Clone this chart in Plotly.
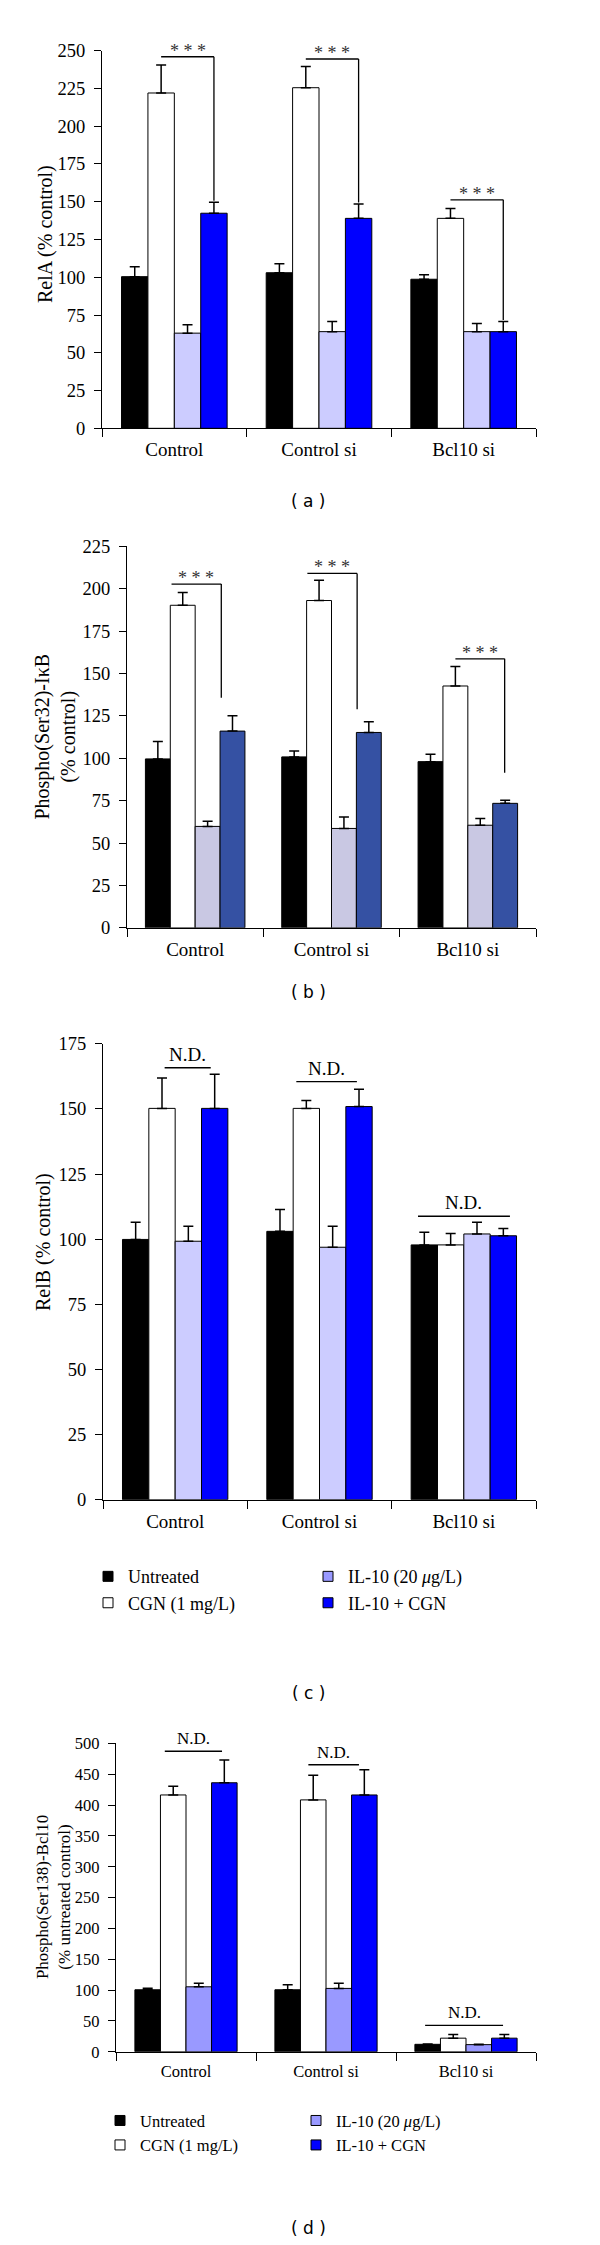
import plotly.graph_objects as go

W, H = 600, 2245

categories = ["Control", "Control si", "Bcl10 si"]
treatments = ["Untreated", "CGN (1 mg/L)", "IL-10 (20 <i>μ</i>g/L)", "IL-10 + CGN"]

# (a) RelA, % control  -- rows: untreated, CGN, IL-10, IL-10+CGN
relA_mean = [[100.4, 103.0, 98.7], [222.0, 225.5, 139.0], [63.0, 64.0, 64.0], [142.4, 139.0, 64.0]]
relA_err = [[6.6, 6.0, 3.0], [18.6, 14.0, 6.6], [5.6, 6.7, 5.4], [7.2, 9.5, 6.7]]

# (b) Phospho(Ser32)-IkB, % control
ikb_mean = [[99.6, 100.8, 98.0], [190.2, 193.0, 142.6], [59.8, 58.6, 60.5], [116.0, 115.2, 73.4]]
ikb_err = [[10.2, 3.5, 4.3], [7.5, 11.9, 11.5], [3.1, 6.8, 4.0], [9.0, 6.3, 1.8]]

# (c) RelB, % control
relB_mean = [[99.9, 103.0, 97.8], [150.2, 150.2, 97.8], [99.2, 96.9, 102.0], [150.2, 150.9, 101.3]]
relB_err = [[6.6, 8.4, 4.9], [11.7, 3.0, 4.4], [5.8, 8.1, 4.5], [13.1, 6.6, 2.8]]

# (d) Phospho(Ser138)-Bcl10, % untreated control
bcl_mean = [[100.5, 100.5, 12.0], [416.5, 408.5, 22.0], [105.3, 102.7, 11.5], [436.3, 416.5, 22.0]]
bcl_err = [[2.5, 8.0, 0.5], [14.0, 40.0, 5.8], [5.8, 8.5, 0.5], [37.0, 41.0, 5.8]]

# significance / N.D. annotations (levels in data units)
star_a_level = [246.0, 244.5, 151.3]
star_b_level = [202.7, 209.0, 158.6]
star_b_drop = [135.7, 128.9, 91.4]
nd_c_level = [165.8, 160.5, 108.8]
nd_d_level = [487.4, 465.5, 42.7]

# spans in bar-index units inside each group (0 = first bar centre)
span_a = [(1, 3), (1, 3), (1, 3)]
span_b = [(0.55, 2.55), (0.53, 2.53), (1.0, 2.98)]
span_c = [(1.1, 2.85), (0.62, 2.92), (-0.24, 3.25)]
span_d = [(0.67, 2.91), (0.81, 2.79), (-0.1, 2.95)]

BARGAP = 0.27
BW = (1 - BARGAP) / 4
SERIF = "Liberation Serif"


def bx(i, p):
    return i + (p - 1.5) * BW


fig = go.Figure()

panels = [
    dict(n="", mean=relA_mean, err=relA_err,
         colors=["#000000", "#FFFFFF", "#CCCCFF", "#0000FF"],
         px=(94, 528), py=(33, 414), top=250, dtick=25, tick=18.5, cat=19),
    dict(n="2", mean=ikb_mean, err=ikb_err,
         colors=["#000000", "#FFFFFF", "#C9C8E3", "#3551A3"],
         px=(119, 528), py=(533, 918), top=225, dtick=25, tick=18.5, cat=19),
    dict(n="3", mean=relB_mean, err=relB_err,
         colors=["#000000", "#FFFFFF", "#CCCCFF", "#0000FF"],
         px=(95, 528), py=(1035, 1495), top=175, dtick=25, tick=18.5, cat=19),
    dict(n="4", mean=bcl_mean, err=bcl_err,
         colors=["#000000", "#FFFFFF", "#9999FF", "#0000FF"],
         px=(108, 528), py=(1741, 2052), top=500, dtick=50, tick=16.5, cat=16.5),
]

layout_axes = {}
for p in panels:
    n = p["n"]
    for j in range(4):
        fig.add_trace(go.Bar(
            x=categories, y=p["mean"][j], name=treatments[j],
            marker=dict(color=p["colors"][j], line=dict(color="black", width=1)),
            error_y=dict(type="data", array=p["err"][j], arrayminus=[0, 0, 0],
                         symmetric=False, color="black", thickness=1.5, width=5),
            xaxis="x" + n, yaxis="y" + n, showlegend=False))
    layout_axes["xaxis" + n] = dict(
        domain=[p["px"][0] / W, p["px"][1] / W], anchor="y" + n, type="category",
        range=[-0.5, 2.5], tickson="boundaries", ticks="outside", ticklen=8,
        tickwidth=1.3, tickcolor="black", showline=True, linecolor="black",
        linewidth=1.3, showgrid=False, ticklabelstandoff=4,
        tickfont=dict(family=SERIF, size=p["cat"], color="black"))
    layout_axes["yaxis" + n] = dict(
        domain=[1 - p["py"][1] / H, 1 - p["py"][0] / H], anchor="x" + n,
        range=[0, p["top"]], dtick=p["dtick"], ticks="outside", ticklen=7,
        tickwidth=1.3, tickcolor="black", showline=True, linecolor="black",
        linewidth=1.3, showgrid=False, zeroline=False, ticklabelstandoff=5,
        tickfont=dict(family=SERIF, size=p["tick"], color="black"))

shapes = []
annotations = []
line_style = dict(color="black", width=1.3)

# *** brackets, panel (a): drop to top of IL-10 + CGN error bar
for i in range(3):
    x0, x1 = bx(i, span_a[i][0]), bx(i, span_a[i][1])
    lvl = star_a_level[i]
    drop = relA_mean[3][i] + relA_err[3][i] + 1
    shapes.append(dict(type="line", xref="x", yref="y", x0=x0, x1=x1, y0=lvl, y1=lvl, line=line_style))
    shapes.append(dict(type="line", xref="x", yref="y", x0=x1, x1=x1, y0=lvl, y1=drop, line=line_style))
    annotations.append(dict(text="* * *", xref="x", yref="y", x=(x0 + x1) / 2, y=lvl,
                            yanchor="bottom", showarrow=False, yshift=-6,
                            font=dict(family=SERIF, size=18, color="#333333")))

# *** brackets, panel (b)
for i in range(3):
    x0, x1 = bx(i, span_b[i][0]), bx(i, span_b[i][1])
    lvl = star_b_level[i]
    shapes.append(dict(type="line", xref="x2", yref="y2", x0=x0, x1=x1, y0=lvl, y1=lvl, line=line_style))
    shapes.append(dict(type="line", xref="x2", yref="y2", x0=x1, x1=x1, y0=lvl, y1=star_b_drop[i], line=line_style))
    annotations.append(dict(text="* * *", xref="x2", yref="y2", x=(x0 + x1) / 2, y=lvl,
                            yanchor="bottom", showarrow=False, yshift=-6,
                            font=dict(family=SERIF, size=18, color="#333333")))

# N.D. lines, panels (c) and (d)
for ax, levels, spans, fs in [("3", nd_c_level, span_c, 19), ("4", nd_d_level, span_d, 17)]:
    for i in range(3):
        x0, x1 = bx(i, spans[i][0]), bx(i, spans[i][1])
        shapes.append(dict(type="line", xref="x" + ax, yref="y" + ax, x0=x0, x1=x1,
                           y0=levels[i], y1=levels[i], line=line_style))
        annotations.append(dict(text="N.D.", xref="x" + ax, yref="y" + ax, x=(x0 + x1) / 2,
                                y=levels[i], yanchor="bottom", showarrow=False, yshift=1,
                                font=dict(family=SERIF, size=fs, color="black")))

# y axis titles
ytitles = [
    ("RelA (% control)", 37, 218, 20),
    ("Phospho(Ser32)-IκB<br>(% control)", 48, 725, 20),
    ("RelB (% control)", 36, 1235, 20),
    ("Phospho(Ser138)-Bcl10<br>(% untreated control)", 45, 1896, 17),
]
for txt, x, y, fs in ytitles:
    annotations.append(dict(text=txt, xref="paper", yref="paper", x=x / W, y=1 - y / H,
                            textangle=-90, showarrow=False, xanchor="center", yanchor="middle",
                            font=dict(family=SERIF, size=fs, color="black")))

# panel captions
for txt, y in [("( a )", 487), ("( b )", 983), ("( c )", 1690), ("( d )", 2230)]:
    annotations.append(dict(text=txt, xref="paper", yref="paper", x=0.5, y=1 - y / H,
                            showarrow=False, xanchor="center", yanchor="middle",
                            font=dict(family="DejaVu Sans", size=17, color="black")))

# legends for (c) and (d), two columns each
legend_colors = ["#000000", "#FFFFFF", "#9999FF", "#0000FF"]
legend_slots = [("3", "legend", "legend2"), ("4", "legend3", "legend4")]
for ax, l1, l2 in legend_slots:
    for j in range(4):
        fig.add_trace(go.Scatter(
            x=[None], y=[None], mode="markers", name=treatments[j],
            marker=dict(symbol="square", size=10, color=legend_colors[j],
                        line=dict(color="black", width=1)),
            xaxis="x" + ax, yaxis="y" + ax, legend=l1 if j < 2 else l2))


def legend_box(x, y, fs):
    return dict(x=x / W, y=1 - y / H, xanchor="left", yanchor="top", bgcolor="rgba(0,0,0,0)",
                font=dict(family=SERIF, size=fs, color="black"), tracegroupgap=0,
                itemclick=False, itemdoubleclick=False)


fig.update_layout(
    width=W, height=H, margin=dict(l=0, r=0, t=0, b=0),
    paper_bgcolor="white", plot_bgcolor="white",
    barmode="group", bargap=BARGAP, bargroupgap=0,
    shapes=shapes, annotations=annotations, showlegend=True,
    legend=legend_box(80, 1554, 18), legend2=legend_box(300, 1554, 18),
    legend3=legend_box(92, 2104, 16.5), legend4=legend_box(288, 2104, 16.5),
    **layout_axes)

fig.write_html("out.html")
